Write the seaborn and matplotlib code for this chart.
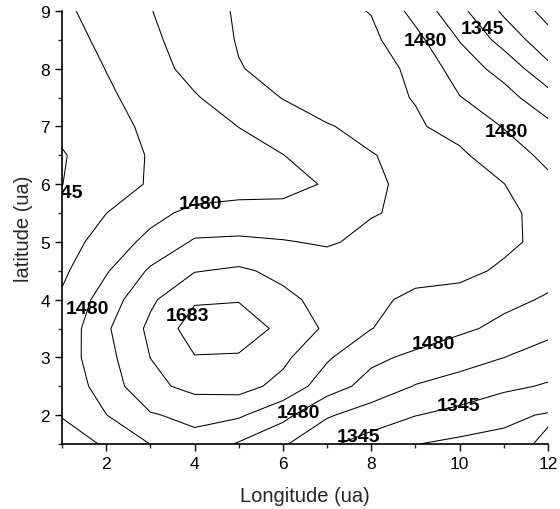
import matplotlib
matplotlib.use("Agg")
import matplotlib.pyplot as plt
from matplotlib.ticker import MultipleLocator
import numpy as np
import seaborn as sns

# Grid coordinates (ua)
longitude = [1, 2, 3, 4, 5, 6, 7, 8, 9, 10, 11, 12]
latitude = [1.5, 2.0, 2.5, 3.0, 3.5, 4.0, 4.5, 5.0, 5.5, 6.0, 6.5, 7.0, 7.5, 8.0, 8.5, 9.0]

# Measured field, one row per latitude (west -> east)
lat_1_5 = [1366, 1423, 1481, 1525, 1474, 1421, 1355, 1318, 1279, 1262, 1262, 1285]
lat_2_0 = [1418, 1479, 1542, 1565, 1557, 1500, 1420, 1380, 1347, 1325, 1290, 1272]
lat_2_5 = [1432, 1512, 1598, 1635, 1640, 1595, 1512, 1455, 1409, 1385, 1360, 1338]
lat_3_0 = [1445, 1526, 1616, 1680, 1678, 1630, 1556, 1495, 1466, 1440, 1413, 1386]
lat_3_5 = [1435, 1538, 1630, 1715, 1712, 1670, 1603, 1549, 1520, 1492, 1465, 1430]
lat_4_0 = [1422, 1511, 1604, 1675, 1680, 1630, 1596, 1566, 1530, 1517, 1495, 1474]
lat_4_5 = [1400, 1474, 1557, 1612, 1625, 1600, 1585, 1580, 1575, 1570, 1535, 1500]
lat_5_0 = [1384, 1439, 1500, 1555, 1559, 1552, 1540, 1565, 1575, 1580, 1565, 1525]
lat_5_5 = [1366, 1412, 1458, 1500, 1505, 1498, 1520, 1544, 1560, 1565, 1560, 1530]
lat_6_0 = [1344, 1390, 1417, 1434, 1451, 1462, 1485, 1540, 1560, 1560, 1549, 1496]
lat_6_5 = [1340, 1382, 1417, 1438, 1459, 1479, 1513, 1546, 1560, 1558, 1513, 1464]
lat_7_0 = [1360, 1394, 1423, 1452, 1481, 1513, 1545, 1560, 1555, 1527, 1477, 1428]
lat_7_5 = [1365, 1402, 1438, 1475, 1513, 1550, 1568, 1565, 1545, 1483, 1436, 1372]
lat_8_0 = [1372, 1414, 1456, 1500, 1545, 1565, 1570, 1562, 1540, 1445, 1390, 1294]
lat_8_5 = [1387, 1427, 1468, 1510, 1552, 1568, 1570, 1562, 1500, 1410, 1320, 1235]
lat_9_0 = [1400, 1439, 1478, 1518, 1555, 1570, 1568, 1545, 1458, 1363, 1266, 1186]

# Contour levels
levels = [1209.8, 1277.4, 1345.0, 1412.6, 1480.2, 1547.8, 1615.4, 1683.0]
# Where the 1345, 1480 and 1683 labels sit
label_spots = [
    (10.46, 8.65), (1.0, 5.95), (7.7, 1.67), (9.96, 2.17),
    (9.17, 8.46), (11.03, 6.9), (4.12, 5.71), (1.59, 3.84), (6.39, 1.98), (9.4, 3.23),
    (3.78, 3.75),
]

field = np.array([lat_1_5, lat_2_0, lat_2_5, lat_3_0, lat_3_5, lat_4_0, lat_4_5, lat_5_0,
                  lat_5_5, lat_6_0, lat_6_5, lat_7_0, lat_7_5, lat_8_0, lat_8_5, lat_9_0],
                 dtype=float)

sns.set_style("ticks")
plt.rcParams["font.family"] = ["Liberation Sans", "DejaVu Sans"]

fig = plt.figure(figsize=(5.6, 5.1), dpi=100)
ax = fig.add_axes([0.1107, 0.1275, 0.8679, 0.8490])

cs = ax.contour(longitude, latitude, field, levels=levels, colors="black", linewidths=0.75)
ax.set_xlim(1, 12)
ax.set_ylim(1.5, 9)

ax.clabel(cs, manual=label_spots, inline=False, fmt=lambda v: f"{v:.0f}", fontsize=14)
for t in cs.labelTexts:
    t.set_rotation(0)
    t.set_fontweight("bold")
    t.set_clip_on(True)
    t.set_clip_path(ax.patch)
# the edge label hangs just below the small closed loop on the west border
cs.labelTexts[1].set_position((1.0, 5.86))

ax.xaxis.set_major_locator(MultipleLocator(2))
ax.xaxis.set_minor_locator(MultipleLocator(1))
ax.yaxis.set_major_locator(MultipleLocator(1))
ax.yaxis.set_minor_locator(MultipleLocator(0.5))
ax.tick_params(which="major", direction="out", length=5, width=1, labelsize=12.5,
               colors="black")
ax.tick_params(which="minor", direction="out", length=3, width=1)

sns.despine(ax=ax)
for side in ("left", "bottom"):
    ax.spines[side].set_linewidth(1.2)
    ax.spines[side].set_color("black")

ax.set_xlabel("Longitude (ua)", fontsize=14.5, labelpad=11)
ax.set_ylabel("latitude (ua)", fontsize=14.5, labelpad=5)

fig.savefig("out.png", dpi=100, facecolor="white")
